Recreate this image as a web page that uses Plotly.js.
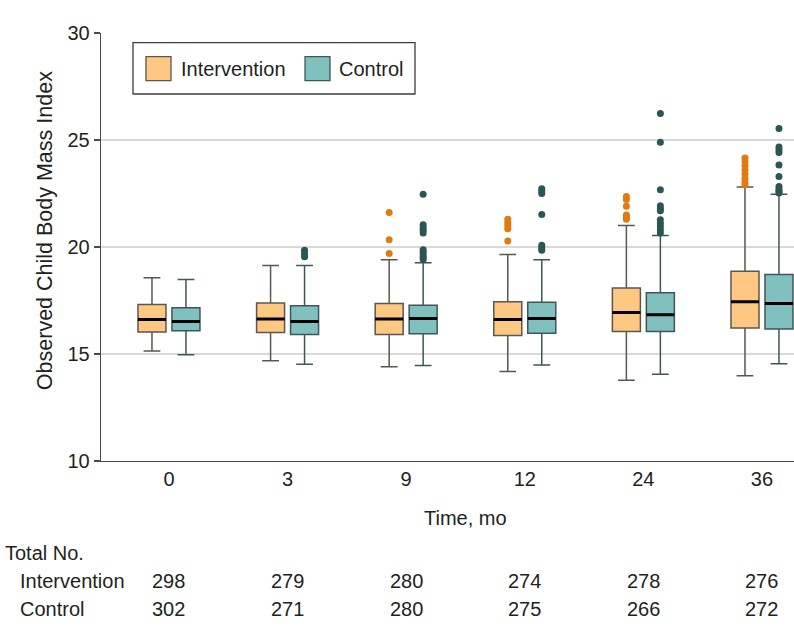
<!DOCTYPE html>
<html>
<head>
<meta charset="utf-8">
<script src="https://cdn.plot.ly/plotly-3.0.1.min.js"></script>
<style>
	html, body { margin: 0; padding: 0; background: #fff; }
	#plot { width: 794px; height: 637px; }
</style>
</head>
<body>
<div id="plot"></div>
<script>
(function () {

	'use strict';

	// time points (months)
	const months = ['0', '3', '9', '12', '24', '36'];

	// Intervention box stats
	const intLower  = [15.14, 14.69, 14.40, 14.18, 13.77, 13.98];
	const intQ1     = [16.03, 16.00, 15.91, 15.86, 16.05, 16.22];
	const intMedian = [16.61, 16.63, 16.63, 16.61, 16.94, 17.44];
	const intQ3     = [17.31, 17.38, 17.36, 17.44, 18.08, 18.87];
	const intUpper  = [18.56, 19.13, 19.40, 19.65, 21.01, 22.80];

	// Control box stats
	const ctlLower  = [14.97, 14.52, 14.46, 14.49, 14.05, 14.55];
	const ctlQ1     = [16.09, 15.91, 15.95, 15.97, 16.05, 16.17];
	const ctlMedian = [16.52, 16.52, 16.66, 16.66, 16.83, 17.36];
	const ctlQ3     = [17.16, 17.26, 17.28, 17.42, 17.86, 18.71];
	const ctlUpper  = [18.48, 19.13, 19.26, 19.40, 20.54, 22.46];

	// outliers, one list per time point
	const intOutliers = [
		[],
		[],
		[21.61, 20.34, 19.70],
		[21.30, 21.15, 21.00, 20.85, 20.28],
		[22.36, 22.22, 21.90, 21.50, 21.38, 21.30],
		[24.16, 24.00, 23.80, 23.60, 23.40, 23.20, 23.05, 22.92],
	];
	const ctlOutliers = [
		[],
		[19.85, 19.70, 19.55],
		[22.47, 21.04, 20.90, 20.78, 20.65, 19.87, 19.75, 19.63, 19.52, 19.42],
		[22.72, 22.62, 22.50, 21.52, 20.08, 19.95, 19.85],
		[26.24, 24.89, 22.67, 21.93, 21.80, 21.69, 21.27, 21.10, 20.95, 20.80, 20.65],
		[25.54, 24.67, 24.55, 24.42, 23.83, 23.30, 22.83, 22.70, 22.60, 22.52],
	];

	// totals table
	const intTotals = [298, 279, 280, 274, 278, 276];
	const ctlTotals = [302, 271, 280, 275, 266, 272];

	const font = 'Liberation Sans, Arial, sans-serif';
	const ink = '#231f20';

	const colors = {
		int: { fill: '#fec882', line: '#5b5650', dot: '#e07b12' },
		ctl: { fill: '#80c1c0', line: '#3e5756', dot: '#2a5653' },
	};

	/**
	* Box trace from precomputed stats
	*/
	const boxTrace = (name, group, stats, c) => ({
		type: 'box',
		name,
		x: months,
		lowerfence: stats[0],
		q1: stats[1],
		median: stats[2],
		q3: stats[3],
		upperfence: stats[4],
		offsetgroup: group,
		boxpoints: false,
		fillcolor: c.fill,
		line: { color: c.line, width: 1.5 },
		whiskerwidth: 0.6,
		showlegend: false,
	});

	// flat box on the median = thick black median bar
	const medianTrace = (group, median) => ({
		type: 'box',
		x: months,
		lowerfence: median,
		q1: median,
		median: median,
		q3: median,
		upperfence: median,
		offsetgroup: group,
		boxpoints: false,
		fillcolor: 'rgba(0,0,0,0)',
		line: { color: '#000', width: 3 },
		whiskerwidth: 0,
		hoverinfo: 'skip',
		showlegend: false,
	});

	// outliers as points of an invisible box in the same offset group
	const outlierTrace = (group, outliers, c) => {
		const xs = [], ys = [];
		outliers.forEach((list, i) => {
			list.forEach(v => { xs.push(months[i]); ys.push(v); });
		});
		return {
			type: 'box',
			x: xs,
			y: ys,
			offsetgroup: group,
			boxpoints: 'all',
			jitter: 0,
			pointpos: 0,
			fillcolor: 'rgba(0,0,0,0)',
			line: { color: 'rgba(0,0,0,0)', width: 0 },
			marker: { color: c.dot, size: 7, line: { width: 0 } },
			hoverinfo: 'skip',
			showlegend: false,
		};
	};

	const data = [
		boxTrace('Intervention', 'int', [intLower, intQ1, intMedian, intQ3, intUpper], colors.int),
		boxTrace('Control', 'ctl', [ctlLower, ctlQ1, ctlMedian, ctlQ3, ctlUpper], colors.ctl),
		medianTrace('int', intMedian),
		medianTrace('ctl', ctlMedian),
		outlierTrace('int', intOutliers, colors.int),
		outlierTrace('ctl', ctlOutliers, colors.ctl),
	];

	/**
	* Annotations: titles, totals table
	*/
	const annotations = [];
	const txt = (text, x, y, xref, xanchor) => ({
		text, x, y, xref, yref: 'paper', xanchor, yanchor: 'middle',
		showarrow: false, font: { family: font, size: 20, color: ink },
	});

	annotations.push(txt('Time, mo', (months.length - 1) / 2, -0.134, 'x', 'center'));
	annotations.push(Object.assign(txt('Observed Child Body Mass Index', -0.0808, 0.537, 'paper', 'center'),
		{ textangle: -90, font: { family: font, size: 21.5, color: ink } }));
	annotations.push(txt('Total No.', -0.1414, -0.214, 'paper', 'left'));
	annotations.push(txt('Intervention', -0.1198, -0.280, 'paper', 'left'));
	annotations.push(txt('Control', -0.1198, -0.346, 'paper', 'left'));
	months.forEach((m, i) => {
		annotations.push(txt(String(intTotals[i]), i, -0.280, 'x', 'center'));
		annotations.push(txt(String(ctlTotals[i]), i, -0.346, 'x', 'center'));
	});

	// legend (drawn by hand, square swatches)
	annotations.push(txt('Intervention', 0.1126, 0.9166, 'paper', 'left'));
	annotations.push(txt('Control', 0.3405, 0.9166, 'paper', 'left'));

	const shapes = [
		{ type: 'rect', xref: 'paper', yref: 'paper', x0: 0.0462, x1: 0.4531, y0: 0.8575, y1: 0.9773,
			line: { color: '#3c3c3c', width: 1.3 }, fillcolor: '#fff', layer: 'above' },
		{ type: 'rect', xref: 'paper', yref: 'paper', x0: 0.0649, x1: 0.1010, y0: 0.8886, y1: 0.9446,
			line: { color: colors.int.line, width: 1.3 }, fillcolor: colors.int.fill, layer: 'above' },
		{ type: 'rect', xref: 'paper', yref: 'paper', x0: 0.2944, x1: 0.3304, y0: 0.8886, y1: 0.9446,
			line: { color: colors.ctl.line, width: 1.3 }, fillcolor: colors.ctl.fill, layer: 'above' },
	];

	const layout = {
		width: 794,
		height: 637,
		margin: { l: 101, r: 0, t: 33, b: 176 },
		paper_bgcolor: '#fff',
		plot_bgcolor: '#fff',
		font: { family: font, size: 20, color: ink },
		showlegend: false,
		boxmode: 'group',
		boxgap: 0.427,
		boxgroupgap: 0.176,
		xaxis: {
			type: 'category',
			range: [-0.573, 5.27],
			showline: true,
			linecolor: '#4a4a4a',
			linewidth: 1.3,
			showgrid: false,
			zeroline: false,
			ticks: '',
			tickfont: { family: font, size: 20, color: ink },
			fixedrange: true,
		},
		yaxis: {
			range: [10, 30],
			tickvals: [10, 15, 20, 25, 30],
			showline: true,
			linecolor: '#4a4a4a',
			linewidth: 1.3,
			ticks: 'outside',
			ticklen: 6,
			tickcolor: '#4a4a4a',
			tickwidth: 1.3,
			showgrid: true,
			gridcolor: '#d9d9d9',
			gridwidth: 1.5,
			zeroline: false,
			tickfont: { family: font, size: 20, color: ink },
			fixedrange: true,
		},
		annotations,
		shapes,
	};

	Plotly.newPlot('plot', data, layout, { displayModeBar: false, staticPlot: true });

})();
</script>
</body>
</html>
